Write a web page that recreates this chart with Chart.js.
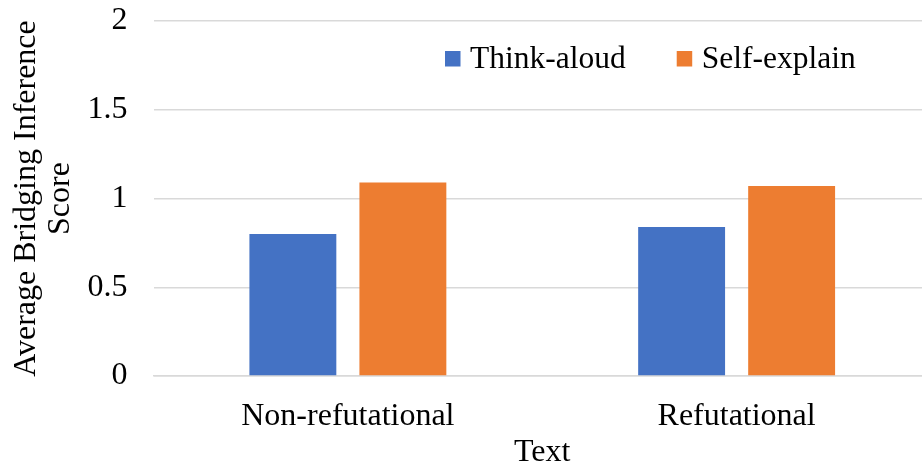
<!DOCTYPE html>
<html>
<head>
<meta charset="utf-8">
<script src="https://cdn.jsdelivr.net/npm/chart.js@4.4.1/dist/chart.umd.min.js"></script>
<style>
  html, body { margin: 0; padding: 0; background: #fff; overflow: hidden; }
  #wrap { width: 931px; height: 466px; }
</style>
</head>
<body>
<div id="wrap"><canvas id="c" width="931" height="466"></canvas></div>
<script>
// Average bridging inference score by text type and reading condition
const categories = ['Non-refutational', 'Refutational'];
const thinkAloud = [0.80, 0.84];
const selfExplain = [1.09, 1.07];
const yTicks = [0, 0.5, 1, 1.5, 2];
const yTickLabels = ['0', '0.5', '1', '1.5', '2'];

const FONT = "'Liberation Serif', 'Times New Roman', serif";

// Legend drawn inside the plot, near its top right
const innerLegend = {
  id: 'innerLegend',
  afterDraw(chart) {
    const ctx = chart.ctx;
    ctx.save();
    ctx.font = '31.5px ' + FONT;
    ctx.textBaseline = 'middle';
    ctx.textAlign = 'left';
    let x = 445;
    const cy = 58.5;
    chart.data.datasets.forEach(ds => {
      ctx.fillStyle = ds.backgroundColor;
      ctx.fillRect(x, cy - 7.5, 15.5, 15.5);
      x += 25;
      ctx.fillStyle = '#000';
      ctx.fillText(ds.label, x, cy + 1);
      x += ctx.measureText(ds.label).width + 51;
    });
    ctx.restore();
  }
};

new Chart(document.getElementById('c'), {
  type: 'bar',
  data: {
    labels: categories,
    datasets: [
      { label: 'Think-aloud', data: thinkAloud, backgroundColor: '#4472C4' },
      { label: 'Self-explain', data: selfExplain, backgroundColor: '#ED7D31' }
    ]
  },
  options: {
    responsive: false,
    animation: false,
    devicePixelRatio: 1,
    layout: { padding: { top: 21, right: 0, left: 0, bottom: 0 } },
    categoryPercentage: 0.566,
    barPercentage: 0.79,
    plugins: {
      legend: { display: false },
      tooltip: { enabled: false }
    },
    scales: {
      x: {
        grid: { display: false, drawTicks: false },
        border: { display: true, color: '#d9d9d9', width: 1.5 },
        ticks: { color: '#000', font: { family: FONT, size: 32 }, padding: 21, maxRotation: 0 },
        title: { display: true, text: 'Text', color: '#000', font: { family: FONT, size: 32 }, padding: { top: 0, bottom: -6 } },
        afterFit(s) { s.height = 90; }
      },
      y: {
        min: 0, max: 2,
        afterBuildTicks(s) { s.ticks = yTicks.map(v => ({ value: v })); },
        grid: { color: '#d9d9d9', lineWidth: 1.5, drawTicks: false },
        border: { display: false },
        ticks: {
          color: '#000', font: { family: FONT, size: 32 }, padding: 26,
          callback(v, i) { return yTickLabels[i]; }
        },
        title: {
          display: true,
          text: ['Average Bridging Inference', 'Score'],
          color: '#000',
          font: { family: FONT, size: 32, lineHeight: 1.05 },
          padding: { top: 10, bottom: 0 }
        },
        afterFit(s) {
          s.width = 153.5;
          s.paddingTop = 0;
          s.paddingBottom = 0;
        }
      }
    }
  },
  plugins: [innerLegend]
});
</script>
</body>
</html>
